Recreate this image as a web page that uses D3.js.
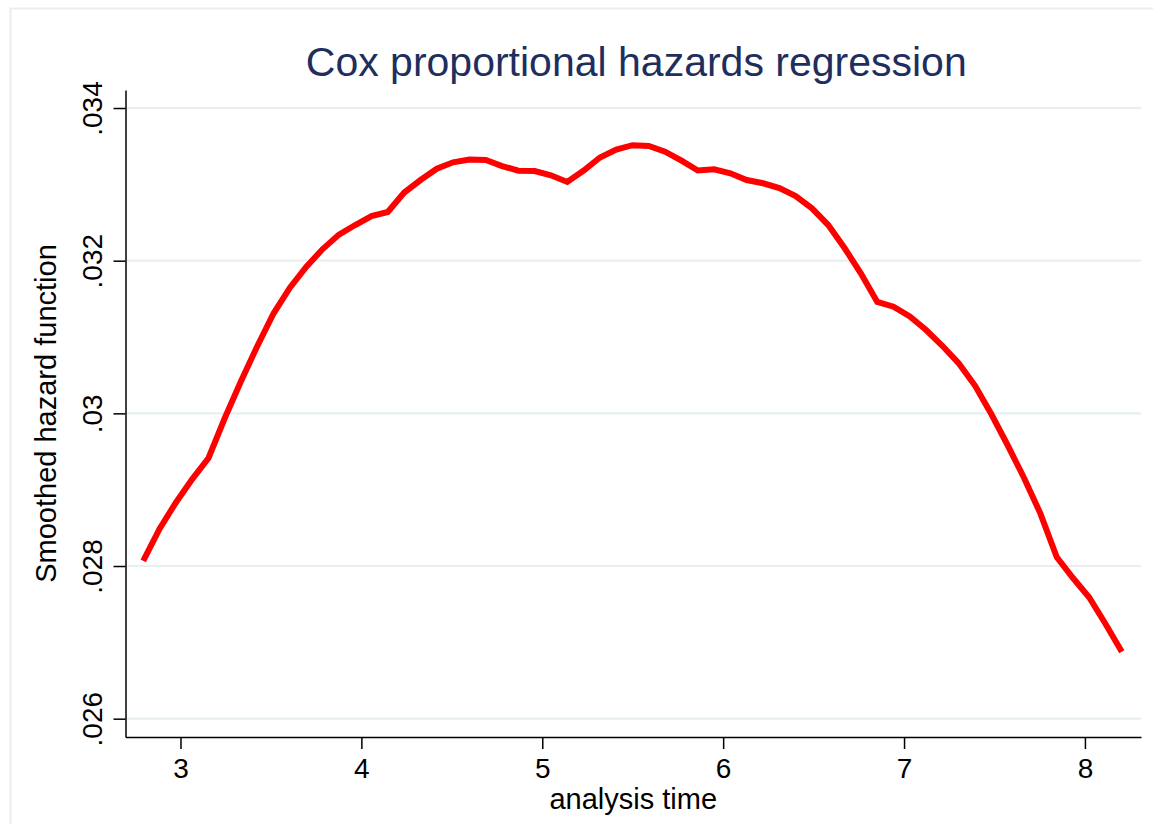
<!DOCTYPE html>
<html>
<head>
<meta charset="utf-8">
<script src="https://cdn.jsdelivr.net/npm/d3@7"></script>
<style>
  html, body { margin: 0; padding: 0; background: #fff; }
  svg { display: block; font-family: "Liberation Sans", Arial, sans-serif; }
</style>
</head>
<body>
<svg id="chart" width="1153" height="824"></svg>
<script>
// Smoothed hazard estimate after Cox regression
const analysisTime = [
  2.794, 2.884, 2.974, 3.064, 3.155, 3.245, 3.335, 3.425, 3.515, 3.605,
  3.696, 3.786, 3.876, 3.966, 4.056, 4.146, 4.237, 4.327, 4.417, 4.507,
  4.597, 4.688, 4.778, 4.868, 4.958, 5.048, 5.138, 5.229, 5.319, 5.409,
  5.499, 5.589, 5.679, 5.770, 5.860, 5.950, 6.040, 6.130, 6.221, 6.311,
  6.401, 6.491, 6.581, 6.671, 6.762, 6.852, 6.942, 7.032, 7.122, 7.213,
  7.303, 7.393, 7.483, 7.573, 7.663, 7.754, 7.844, 7.934, 8.024, 8.114,
  8.204
];
const hazard = [
  .028066, .028485, .028830, .029135, .029415, .029939, .030424, .030882, .031311, .031647,
  .031922, .032152, .032342, .032467, .032585, .032638, .032893, .033057, .033205, .033289,
  .033325, .033319, .033240, .033179, .033175, .033118, .033031, .033181, .033352, .033456,
  .033513, .033502, .033428, .033310, .033181, .033197, .033145, .033057, .033014, .032952,
  .032847, .032686, .032467, .032166, .031832, .031459, .031397, .031269, .031092, .030882,
  .030653, .030361, .029988, .029582, .029156, .028687, .028118, .027843, .027588, .027241,
  .026878
];
const xTicks = [3, 4, 5, 6, 7, 8];
const yTicks = [0.026, 0.028, 0.030, 0.032, 0.034];
const yTickLabels = [".026", ".028", ".03", ".032", ".034"];

const titleText = "Cox proportional hazards regression";
const xTitle = "analysis time";
const yTitle = "Smoothed hazard function";

const svg = d3.select("#chart");

// outer graph region frame
svg.append("rect")
  .attr("x", 10.5).attr("y", 8.5)
  .attr("width", 1170).attr("height", 840)
  .attr("fill", "#fff")
  .attr("stroke", "#e8eff1")
  .attr("stroke-width", 2);

const plotL = 125.5, plotR = 1141, plotT = 90, plotB = 737;

const x = d3.scaleLinear().domain([2.696, 8.31]).range([plotL, plotR]);
const y = d3.scaleLinear().domain([0.02576, 0.034236]).range([plotB, plotT]);

// horizontal grid
svg.append("g")
  .selectAll("line")
  .data(yTicks)
  .join("line")
  .attr("x1", plotL + 1.5).attr("x2", plotR)
  .attr("y1", d => y(d)).attr("y2", d => y(d))
  .attr("stroke", "#e8eff1")
  .attr("stroke-width", 2.2);

// axes
const xAxis = d3.axisBottom(x).tickValues(xTicks).tickFormat(d3.format("d"))
  .tickSize(12).tickSizeOuter(0).tickPadding(9);
const gx = svg.append("g").attr("transform", `translate(0,${plotB})`).call(xAxis);
gx.select(".domain").attr("stroke", "#000").attr("stroke-width", 1.5);
gx.selectAll(".tick line").attr("stroke", "#000").attr("stroke-width", 1.5);
gx.selectAll(".tick text")
  .attr("fill", "#000")
  .style("font-size", "28px")
  .style("font-family", "Liberation Sans, Arial, sans-serif");

const yAxis = d3.axisLeft(y).tickValues(yTicks)
  .tickFormat((d, i) => yTickLabels[i])
  .tickSize(12).tickSizeOuter(0);
const gy = svg.append("g").attr("transform", `translate(${plotL},0)`).call(yAxis);
gy.select(".domain").attr("stroke", "#000").attr("stroke-width", 1.5);
gy.selectAll(".tick line").attr("stroke", "#000").attr("stroke-width", 1.5);
gy.selectAll(".tick text")
  .attr("fill", "#000")
  .attr("x", null).attr("dy", null)
  .attr("transform", "translate(-24,0) rotate(-90)")
  .attr("text-anchor", "middle")
  .style("font-size", "28px")
  .style("font-family", "Liberation Sans, Arial, sans-serif");

// hazard curve
const pts = analysisTime.map((t, i) => [t, hazard[i]]);
svg.append("path")
  .datum(pts)
  .attr("fill", "none")
  .attr("stroke", "#ff0000")
  .attr("stroke-width", 6)
  .attr("stroke-linejoin", "miter")
  .attr("d", d3.line().x(d => x(d[0])).y(d => y(d[1])));

// titles
svg.append("text")
  .attr("x", (plotL + plotR) / 2 + 3).attr("y", 76)
  .attr("text-anchor", "middle")
  .attr("fill", "#1e2f5e")
  .style("font-size", "41px")
  .text(titleText);

svg.append("text")
  .attr("x", (plotL + plotR) / 2).attr("y", 809)
  .attr("text-anchor", "middle")
  .attr("fill", "#000")
  .style("font-size", "29px")
  .text(xTitle);

svg.append("text")
  .attr("transform", `translate(56,${(plotT + plotB) / 2}) rotate(-90)`)
  .attr("text-anchor", "middle")
  .attr("fill", "#000")
  .style("font-size", "29px")
  .text(yTitle);
</script>
</body>
</html>
